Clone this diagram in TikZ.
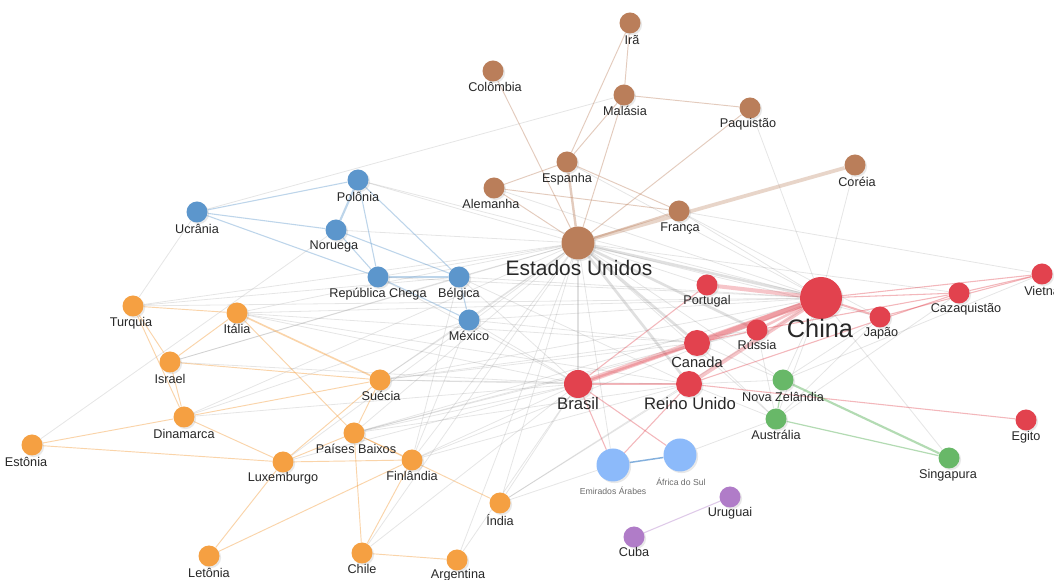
\documentclass[tikz,border=0pt]{standalone}
\usepackage{fontspec}
\setmainfont{Liberation Sans}
\usetikzlibrary{shadows}
\definecolor{cbrown}{RGB}{186,126,90}
\definecolor{cblue}{RGB}{92,150,204}
\definecolor{corange}{RGB}{245,160,66}
\definecolor{cred}{RGB}{226,66,78}
\definecolor{cgreen}{RGB}{104,184,104}
\definecolor{clblue}{RGB}{140,186,250}
\definecolor{cpurple}{RGB}{176,124,200}
\definecolor{labc}{RGB}{40,40,40}
\pgfdeclarelayer{back}
\pgfdeclarelayer{bg}
\pgfsetlayers{back,bg,main}
\tikzset{
  nd/.style={circle, fill=#1, draw=none, inner sep=0pt, minimum size=15.75pt,
    drop shadow={shadow xshift=1.2pt, shadow yshift=-1.2pt, opacity=0.18}},
  ndm/.style={nd=#1, minimum size=19.5pt},
  ndb/.style={nd=#1, minimum size=21pt},
  ndl/.style={nd=#1, minimum size=24.75pt},
  ndx/.style={nd=#1, minimum size=31.5pt},
  lab/.style={text=labc, font=\fontsize{9.5}{11}\selectfont, inner sep=0pt},
  labm/.style={lab, font=\fontsize{11}{13}\selectfont},
  labb/.style={lab, font=\fontsize{12.5}{15}\selectfont},
  labl/.style={lab, font=\fontsize{15.7}{18}\selectfont},
  labx/.style={lab, font=\fontsize{19}{22}\selectfont},
  labt/.style={text=gray!85!black, font=\fontsize{6.5}{8}\selectfont, inner sep=0pt},
  ge/.style={draw=gray, opacity=0.2, line width=0.6pt},
  gw/.style={draw=gray, opacity=0.24, line width=2pt},
  be/.style={draw=cbrown, opacity=0.4, line width=0.7pt},
  ble/.style={draw=cblue, opacity=0.4, line width=0.8pt},
  oe/.style={draw=corange, opacity=0.45, line width=0.7pt},
  re/.style={draw=cred, opacity=0.38, line width=0.8pt},
  gre/.style={draw=cgreen, opacity=0.5, line width=0.9pt},
}
\begin{document}
\begin{tikzpicture}[x=0.75pt,y=-0.75pt]
\clip (0,0) rectangle (1054,580);
\begin{pgfonlayer}{back}
\fill[white] (0,0) rectangle (1054,580);
\end{pgfonlayer}
% brown
\node[nd=cbrown] (iran) at (630,23) {};
\node[nd=cbrown] (colombia) at (493,71) {};
\node[nd=cbrown] (malasia) at (624,95) {};
\node[nd=cbrown] (paquistao) at (750,108) {};
\node[nd=cbrown] (espanha) at (567,162) {};
\node[nd=cbrown] (alemanha) at (494,188) {};
\node[nd=cbrown] (franca) at (679,211) {};
\node[nd=cbrown] (coreia) at (855,165) {};
\node[ndl=cbrown] (eua) at (578,243) {};
% blue
\node[nd=cblue] (polonia) at (358,180) {};
\node[nd=cblue] (ucrania) at (197,212) {};
\node[nd=cblue] (noruega) at (336,230) {};
\node[nd=cblue] (repch) at (378,277) {};
\node[nd=cblue] (belgica) at (459,277) {};
\node[nd=cblue] (mexico) at (469,320) {};
% orange
\node[nd=corange] (turquia) at (133,306) {};
\node[nd=corange] (italia) at (237,313) {};
\node[nd=corange] (israel) at (170,362) {};
\node[nd=corange] (suecia) at (380,380) {};
\node[nd=corange] (dinamarca) at (184,417) {};
\node[nd=corange] (estonia) at (32,445) {};
\node[nd=corange] (paisesb) at (354,433) {};
\node[nd=corange] (luxemburgo) at (283,462) {};
\node[nd=corange] (finlandia) at (412,460) {};
\node[nd=corange] (india) at (500,503) {};
\node[nd=corange] (letonia) at (209,556) {};
\node[nd=corange] (chile) at (362,553) {};
\node[nd=corange] (argentina) at (457,560) {};
% red
\node[ndx=cred] (china) at (821,298) {};
\node[nd=cred] (portugal) at (707,285) {};
\node[nd=cred] (vietna) at (1042,274) {};
\node[nd=cred] (cazaq) at (959,293) {};
\node[nd=cred] (japao) at (880,317) {};
\node[nd=cred] (russia) at (757,330) {};
\node[ndm=cred] (canada) at (697,343) {};
\node[ndb=cred] (brasil) at (578,384) {};
\node[ndm=cred] (reinou) at (689,384) {};
\node[nd=cred] (egito) at (1026,420) {};
% green
\node[nd=cgreen] (novaz) at (783,380) {};
\node[nd=cgreen] (australia) at (776,419) {};
\node[nd=cgreen] (singapura) at (949,458) {};
% light blue
\node[ndl=clblue] (emirados) at (613,465) {};
\node[ndl=clblue] (africa) at (680,455) {};
% purple
\node[nd=cpurple] (uruguai) at (730,497) {};
\node[nd=cpurple] (cuba) at (634,537) {};

\begin{pgfonlayer}{bg}
% grey edges
\foreach \a/\b in {eua/turquia, eua/italia, eua/israel, eua/dinamarca, eua/suecia, eua/paisesb, eua/finlandia, eua/luxemburgo, eua/india, eua/chile, eua/mexico, eua/belgica, eua/repch, eua/noruega, eua/polonia, eua/japao, eua/portugal, eua/australia, eua/novaz, eua/cazaq, eua/emirados, eua/argentina,
  china/turquia, china/italia, china/suecia, china/paisesb, china/finlandia, china/polonia, china/alemanha, china/espanha, china/belgica, china/mexico, china/australia, china/novaz, china/india, china/singapura, china/repch, china/franca, china/coreia, china/paquistao,
  brasil/suecia, brasil/paisesb, brasil/finlandia, brasil/india, brasil/argentina, brasil/italia, brasil/dinamarca, brasil/luxemburgo, brasil/mexico, brasil/belgica, brasil/repch, brasil/israel, brasil/chile,
  reinou/suecia, reinou/finlandia, reinou/paisesb, reinou/italia, reinou/australia, reinou/novaz, reinou/india, reinou/belgica,
  canada/suecia, canada/italia, canada/paisesb, canada/australia, canada/novaz, canada/mexico,
  russia/suecia, russia/paisesb, russia/australia,
  australia/africa, australia/japao, australia/cazaq, novaz/japao, novaz/vietna, india/emirados, ucrania/turquia, estonia/noruega, turquia/belgica, israel/belgica, dinamarca/mexico, suecia/mexico, finlandia/mexico, finlandia/belgica, franca/vietna, franca/japao, malasia/ucrania}
  \draw[ge] (\a) -- (\b);
\foreach \a/\b in {eua/brasil, eua/canada, eua/reinou, eua/china, eua/russia}
  \draw[gw] (\a) -- (\b);
% brown
\foreach \a/\b in {iran/malasia, iran/espanha, malasia/paquistao, malasia/espanha, malasia/eua, espanha/franca, espanha/alemanha, alemanha/eua, alemanha/franca, colombia/eua, paquistao/eua}
  \draw[be] (\a) -- (\b);
\draw[be, line width=1.8pt] (espanha) -- (eua);
\draw[be, line width=1.5pt] (eua) -- (franca);
\draw[be, opacity=0.32, line width=2.8pt] (eua) -- (coreia);
% blue
\foreach \a/\b in {ucrania/polonia, ucrania/noruega, ucrania/repch, polonia/repch, polonia/belgica, noruega/repch, noruega/belgica, repch/belgica, repch/mexico, belgica/mexico}
  \draw[ble] (\a) -- (\b);
\draw[ble, line width=1.6pt] (polonia) -- (noruega);
% orange
\foreach \a/\b in {turquia/italia, turquia/israel, turquia/dinamarca, italia/israel, italia/paisesb, israel/dinamarca, israel/suecia, dinamarca/luxemburgo, dinamarca/estonia, dinamarca/suecia, estonia/luxemburgo, luxemburgo/paisesb, luxemburgo/letonia, luxemburgo/suecia, luxemburgo/finlandia, letonia/finlandia, paisesb/chile, paisesb/suecia, paisesb/finlandia, paisesb/india, finlandia/chile, chile/argentina}
  \draw[oe] (\a) -- (\b);
\draw[oe, line width=1.2pt] (italia) -- (suecia);
% red
\draw[re, opacity=0.3, line width=3pt] (china) -- (portugal);
\draw[re, opacity=0.3, line width=4pt] (china) -- (canada);
\draw[re, opacity=0.3, line width=4pt] (china) -- (brasil);
\draw[re, opacity=0.3, line width=3pt] (china) -- (reinou);
\draw[re, opacity=0.3, line width=2pt] (china) -- (russia);
\draw[re, line width=1.5pt] (china) -- (japao);
\draw[re, opacity=0.3, line width=1.8pt] (brasil) -- (canada);
\foreach \a/\b in {china/cazaq, china/vietna, brasil/portugal, brasil/reinou, brasil/emirados, brasil/africa, reinou/emirados, reinou/egito, japao/vietna, cazaq/vietna, russia/cazaq, reinou/cazaq, canada/russia}
  \draw[re] (\a) -- (\b);
% green
\draw[gre, line width=1.6pt] (novaz) -- (singapura);
\draw[gre] (australia) -- (singapura);
\draw[gre] (novaz) -- (australia);
% light blue, purple
\draw[draw=cblue!80!clblue, opacity=0.8, line width=1.1pt] (emirados) -- (africa);
\draw[draw=cpurple, opacity=0.4, line width=0.8pt] (cuba) -- (uruguai);
\end{pgfonlayer}

% labels
\node[lab] (l-iran) at (632,40) {Irã};
\node[lab] (l-colombia) at (495,87) {Colômbia};
\node[lab] (l-malasia) at (625,111) {Malásia};
\node[lab] (l-paquistao) at (748,124) {Paquistão};
\node[lab] (l-espanha) at (567,179) {Espanha};
\node[lab] (l-alemanha) at (491,204) {Alemanha};
\node[lab] (l-franca) at (680,228) {França};
\node[lab] (l-coreia) at (857,182) {Coréia};
\node[labl] (l-eua) at (579,268) {Estados Unidos};
\node[lab] (l-polonia) at (358,197) {Polônia};
\node[lab] (l-ucrania) at (197,229) {Ucrânia};
\node[lab] (l-noruega) at (334,246) {Noruega};
\node[lab] (l-repch) at (378,294) {República Chega};
\node[lab] (l-belgica) at (459,294) {Bélgica};
\node[lab] (l-mexico) at (469,336) {México};
\node[lab] (l-turquia) at (131,323) {Turquia};
\node[lab] (l-italia) at (237,329) {Itália};
\node[lab] (l-israel) at (170,379) {Israel};
\node[lab] (l-suecia) at (381,396) {Suécia};
\node[lab] (l-dinamarca) at (184,434) {Dinamarca};
\node[lab] (l-estonia) at (26,462) {Estônia};
\node[lab] (l-paisesb) at (356,449) {Países Baixos};
\node[lab] (l-luxemburgo) at (283,478) {Luxemburgo};
\node[lab] (l-finlandia) at (412,476) {Finlândia};
\node[lab] (l-india) at (500,520) {Índia};
\node[lab] (l-letonia) at (209,573) {Letônia};
\node[lab] (l-chile) at (362,569) {Chile};
\node[lab] (l-argentina) at (458,575) {Argentina};
\node[lab] (l-portugal) at (707,301) {Portugal};
\node[labx] (l-china) at (820,328) {China};
\node[lab] (l-japao) at (881,333) {Japão};
\node[lab] (l-cazaq) at (966,309) {Cazaquistão};
\node[lab, anchor=west] (l-vietna) at (1024,291) {Vietnã};
\node[lab] (l-russia) at (757,345) {Rússia};
\node[labm] (l-canada) at (697,362) {Canada};
\node[labb] (l-brasil) at (578,404) {Brasil};
\node[labb] (l-reinou) at (690,404) {Reino Unido};
\node[lab] (l-egito) at (1026,437) {Egito};
\node[lab] (l-novaz) at (783,397) {Nova Zelândia};
\node[lab] (l-australia) at (776,435) {Austrália};
\node[lab] (l-singapura) at (948,475) {Singapura};
\node[labt] (l-emirados) at (613,491) {Emirados Árabes};
\node[labt] (l-africa) at (681,482) {África do Sul};
\node[lab] (l-uruguai) at (730,513) {Uruguai};
\node[lab] (l-cuba) at (634,552) {Cuba};
\end{tikzpicture}
\end{document}
